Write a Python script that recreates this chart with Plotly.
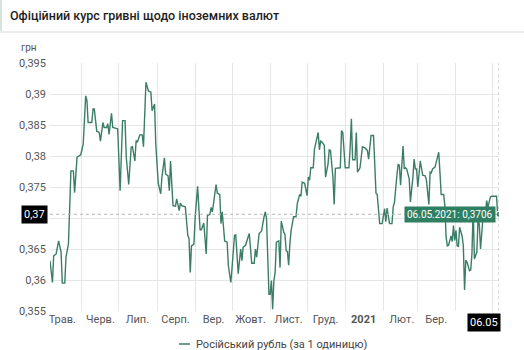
import pandas as pd
import plotly.graph_objects as go

# Official UAH rate for the Russian rouble (per 1 unit), daily, 06.05.2020 - 06.05.2021
START_DATE = "2020-05-06"
days_since_start = [
    0, 2, 3, 5, 7, 9, 10, 12, 13, 15, 17, 19, 20, 22, 25, 27, 29, 30, 31, 34,
    35, 36, 38, 40, 41, 43, 44, 46, 47, 48, 50, 51, 53, 55, 57, 59, 61, 62, 64, 66,
    67, 69, 70, 71, 73, 75, 76, 77, 78, 80, 82, 83, 85, 86, 88, 90, 91, 93, 94, 96,
    97, 98, 99, 100, 102, 103, 105, 106, 107, 110, 112, 113, 114, 115, 117, 118, 120, 121, 122, 123,
    125, 127, 128, 130, 131, 132, 133, 135, 136, 138, 139, 140, 142, 144, 145, 147, 148, 150, 151, 152,
    153, 155, 156, 157, 159, 161, 162, 164, 166, 167, 168, 170, 172, 174, 175, 176, 177, 178, 179, 180,
    181, 182, 183, 184, 186, 187, 188, 190, 191, 192, 193, 194, 195, 196, 198, 200, 201, 203, 204, 205,
    207, 209, 210, 211, 212, 214, 215, 216, 218, 219, 220, 221, 223, 224, 226, 227, 228, 230, 231, 232,
    234, 236, 237, 238, 240, 243, 244, 245, 246, 248, 249, 250, 252, 253, 254, 256, 258, 259, 260, 261,
    263, 264, 265, 266, 267, 268, 270, 271, 272, 273, 274, 276, 278, 279, 280, 282, 283, 284, 285, 287,
    288, 289, 290, 292, 293, 295, 296, 297, 298, 299, 300, 301, 303, 305, 306, 308, 309, 310, 311, 313,
    314, 316, 317, 318, 320, 321, 322, 323, 324, 326, 327, 328, 329, 330, 331, 332, 333, 335, 336, 337,
    338, 339, 341, 342, 343, 344, 345, 347, 348, 349, 350, 351, 352, 354, 355, 356, 358, 359, 363, 364,
    365,
]
rate_rub = [
    0.3631, 0.3596, 0.3639, 0.3642, 0.3663, 0.3645, 0.3595, 0.3595, 0.3637, 0.3658,
    0.3776, 0.3776, 0.3741, 0.3798, 0.3802, 0.3819, 0.3897, 0.3890, 0.3854, 0.3854,
    0.3876, 0.3876, 0.3840, 0.3838, 0.3824, 0.3854, 0.3846, 0.3846, 0.3852, 0.3835,
    0.3869, 0.3846, 0.3845, 0.3844, 0.3744, 0.3857, 0.3857, 0.3798, 0.3754, 0.3814,
    0.3815, 0.3792, 0.3825, 0.3822, 0.3834, 0.3834, 0.3815, 0.3857, 0.3919, 0.3905,
    0.3903, 0.3873, 0.3884, 0.3819, 0.3756, 0.3739, 0.3766, 0.3797, 0.3771, 0.3768,
    0.3744, 0.3792, 0.3749, 0.3720, 0.3719, 0.3731, 0.3712, 0.3724, 0.3720, 0.3718,
    0.3672, 0.3667, 0.3612, 0.3655, 0.3658, 0.3701, 0.3751, 0.3717, 0.3681, 0.3681,
    0.3692, 0.3642, 0.3704, 0.3706, 0.3717, 0.3710, 0.3728, 0.3754, 0.3740, 0.3738,
    0.3691, 0.3710, 0.3663, 0.3661, 0.3623, 0.3596, 0.3620, 0.3672, 0.3673, 0.3631,
    0.3610, 0.3650, 0.3631, 0.3653, 0.3656, 0.3669, 0.3675, 0.3627, 0.3627, 0.3650,
    0.3637, 0.3675, 0.3679, 0.3702, 0.3710, 0.3700, 0.3620, 0.3577, 0.3577, 0.3599,
    0.3553, 0.3599, 0.3612, 0.3661, 0.3663, 0.3620, 0.3695, 0.3677, 0.3674, 0.3647,
    0.3646, 0.3624, 0.3658, 0.3680, 0.3702, 0.3702, 0.3723, 0.3738, 0.3735, 0.3758,
    0.3756, 0.3736, 0.3766, 0.3761, 0.3781, 0.3781, 0.3811, 0.3822, 0.3838, 0.3810,
    0.3824, 0.3823, 0.3817, 0.3766, 0.3787, 0.3810, 0.3809, 0.3766, 0.3722, 0.3780,
    0.3781, 0.3781, 0.3841, 0.3838, 0.3781, 0.3781, 0.3813, 0.3860, 0.3794, 0.3794,
    0.3838, 0.3774, 0.3781, 0.3795, 0.3815, 0.3813, 0.3809, 0.3795, 0.3819, 0.3833,
    0.3833, 0.3771, 0.3740, 0.3738, 0.3720, 0.3691, 0.3691, 0.3707, 0.3715, 0.3694,
    0.3716, 0.3691, 0.3691, 0.3718, 0.3725, 0.3769, 0.3786, 0.3785, 0.3753, 0.3816,
    0.3779, 0.3781, 0.3779, 0.3763, 0.3726, 0.3766, 0.3795, 0.3779, 0.3779, 0.3750,
    0.3779, 0.3792, 0.3769, 0.3768, 0.3761, 0.3722, 0.3774, 0.3773, 0.3779, 0.3782,
    0.3790, 0.3806, 0.3774, 0.3738, 0.3738, 0.3720, 0.3669, 0.3655, 0.3656, 0.3671,
    0.3662, 0.3688, 0.3664, 0.3680, 0.3655, 0.3654, 0.3685, 0.3671, 0.3655, 0.3584,
    0.3632, 0.3629, 0.3615, 0.3616, 0.3642, 0.3717, 0.3634, 0.3645, 0.3701, 0.3689,
    0.3650, 0.3685, 0.3702, 0.3710, 0.3728, 0.3717, 0.3734, 0.3735, 0.3735, 0.3702,
    0.3706,
]

# Axis labelling (0,37 is shown by the crosshair label instead of a tick label)
y_tick_values = [0.355, 0.36, 0.365, 0.37, 0.375, 0.38, 0.385, 0.39, 0.395]
y_tick_labels = ["0,355", "0,36", "0,365", "", "0,375", "0,38", "0,385", "0,39", "0,395"]
crosshair_y_label = "0,37"
month_label_dates = [
    "2020-05-16", "2020-06-16", "2020-07-16", "2020-08-16", "2020-09-16", "2020-10-16",
    "2020-11-16", "2020-12-16", "2021-01-16", "2021-02-16", "2021-03-16",
]
month_labels = [
    "Трав.", "Черв.", "Лип.", "Серп.", "Вер.", "Жовт.",
    "Лист.", "Груд.", "<b>2021</b>", "Лют.", "Бер.",
]
month_starts = [
    "2020-06-01", "2020-07-01", "2020-08-01", "2020-09-01", "2020-10-01", "2020-11-01",
    "2020-12-01", "2021-01-01", "2021-02-01", "2021-03-01", "2021-04-01", "2021-05-01",
]

series_name = "Російський рубль (за 1 одиницю)"
title_text = "Офіційний курс гривні щодо іноземних валют"
unit_text = "грн"

LINE = "#3b7d68"
TIP = "#2f7f63"
GRID = "#e6e6e6"
FONT = "Roboto"

dates = pd.Timestamp(START_DATE) + pd.to_timedelta(days_since_start, unit="D")
last_date = dates[-1]
last_val = rate_rub[-1]
tip_text = f"{last_date:%d.%m.%Y}: " + f"{last_val:.4f}".replace(".", ",")


def px_x(px):
    """Horizontal pixel position -> paper coordinate of the 449px-wide plot area."""
    return (px - 50) / 449


def px_y(py):
    """Vertical pixel position -> paper coordinate of the 248px-tall plot area."""
    return (311 - py) / 248


fig = go.Figure()
fig.add_trace(go.Scatter(
    x=dates, y=rate_rub, mode="lines", name=series_name,
    line=dict(color=LINE, width=1.4), showlegend=False, hoverinfo="skip",
))
# highlighted last point
fig.add_trace(go.Scatter(
    x=[last_date], y=[last_val], mode="markers", showlegend=False, hoverinfo="skip",
    marker=dict(color=LINE, size=6, line=dict(color="white", width=1)),
))

shapes = [
    # header separator and left accent
    dict(type="rect", xref="paper", yref="paper", x0=px_x(-5), x1=px_x(530), y0=px_y(33), y1=px_y(31),
         fillcolor="#ececec", line_width=0, layer="below"),
    dict(type="rect", xref="paper", yref="paper", x0=px_x(0), x1=px_x(2), y0=px_y(31), y1=px_y(-2),
         fillcolor="#d5e3dc", line_width=0, layer="below"),
    # crosshair
    dict(type="line", xref="paper", yref="y", x0=0, x1=1, y0=last_val, y1=last_val,
         line=dict(color="#b5b5b5", width=1, dash="dot")),
    dict(type="line", xref="x", yref="paper", x0=last_date, x1=last_date, y0=0, y1=1,
         line=dict(color="#b5b5b5", width=1, dash="dot")),
    # legend sample line
    dict(type="line", xref="paper", yref="paper", x0=px_x(179), x1=px_x(190),
         y0=px_y(344), y1=px_y(344), line=dict(color=LINE, width=1.5)),
]

annotations = [
    dict(text=unit_text, xref="paper", yref="paper", x=px_x(29), y=px_y(47),
         xanchor="center", yanchor="middle",
         showarrow=False, font=dict(size=10, color="#555", family=FONT)),
    dict(text=series_name, xref="paper", yref="paper", x=px_x(194), y=px_y(344),
         xanchor="left", yanchor="middle", showarrow=False,
         font=dict(size=11, color="#444", family=FONT)),
    # crosshair value labels
    dict(text=crosshair_y_label, xref="paper", yref="y", x=px_x(48), y=last_val,
         xanchor="right", yanchor="middle",
         showarrow=False, bgcolor="black", borderpad=2,
         font=dict(size=11, color="white", family=FONT)),
    dict(text=f"{last_date:%d.%m}", xref="x", yref="paper", x=last_date, y=px_y(313),
         xanchor="right", yanchor="top", xshift=2, showarrow=False, bgcolor="black", borderpad=2,
         font=dict(size=11, color="white", family=FONT)),
    dict(text=tip_text, xref="x", yref="y", x=last_date, y=last_val, xanchor="right",
         yanchor="middle", xshift=-3, showarrow=False, bgcolor=TIP, borderpad=2,
         font=dict(size=10, color="white", family=FONT)),
]

fig.update_layout(
    width=524, height=350,
    margin=dict(l=50, r=25, t=63, b=39),
    paper_bgcolor="white", plot_bgcolor="white",
    font=dict(family=FONT, size=11, color="#666"),
    title=dict(text=title_text, x=10 / 524, xanchor="left", y=1 - 16 / 350, yanchor="middle",
               font=dict(size=12.5, color="#1e1e1e", family=FONT, weight=500)),
    shapes=shapes, annotations=annotations,
    xaxis=dict(
        type="date", range=[dates[0], last_date],
        tickvals=month_label_dates, ticktext=month_labels, showgrid=False,
        ticks="", zeroline=False, showline=False,
        minor=dict(tickvals=month_starts, showgrid=True, gridcolor=GRID, gridwidth=1, ticks=""),
        tickfont=dict(size=11, color="#555"),
    ),
    yaxis=dict(
        range=[0.355, 0.395], tickvals=y_tick_values, ticktext=y_tick_labels,
        showgrid=True, gridcolor=GRID, gridwidth=1, zeroline=False, ticks="",
        ticklabelstandoff=3,
        tickfont=dict(size=11, color="#555"),
    ),
)

fig.write_html("out.html")
